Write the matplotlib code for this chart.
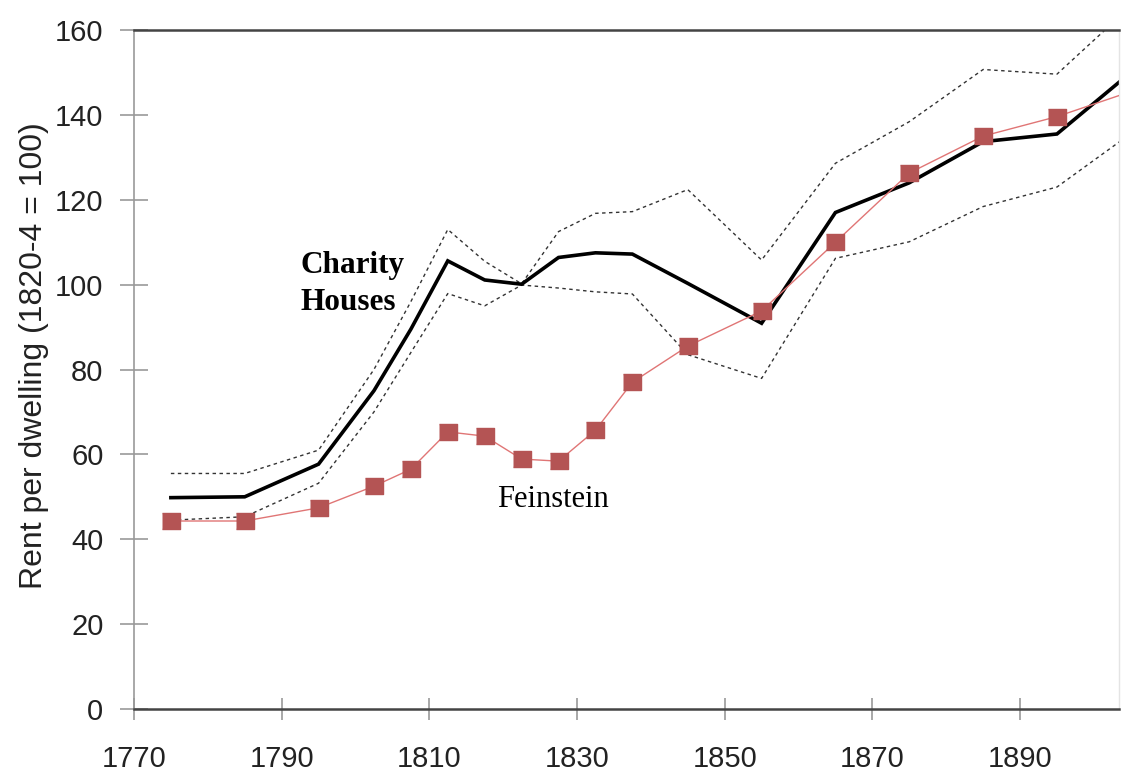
import numpy as np
import matplotlib.pyplot as plt

# charity houses rent index with its upper/lower bounds
years = [1775, 1785, 1795, 1802.5, 1807.5, 1812.5, 1817.5, 1822.5, 1827.5,
         1832.5, 1837.5, 1845, 1855, 1865, 1875, 1885, 1895, 1905]
charity = [49.8, 50.0, 57.7, 75.0, 89.5, 105.6, 101.1, 100.1, 106.4,
           107.5, 107.2, 100.3, 90.9, 117.0, 124.0, 133.7, 135.5, 150.0]
upper = [55.5, 55.5, 61.0, 80.0, 96.0, 113.0, 105.5, 100.2, 112.5,
         116.8, 117.2, 122.4, 105.8, 128.6, 138.4, 150.7, 149.6, 165.6]
lower = [44.5, 45.3, 53.2, 70.0, 84.0, 97.9, 95.0, 99.9, 99.2,
         98.3, 97.8, 83.5, 77.9, 106.2, 110.1, 118.4, 123.0, 135.6]

# Feinstein series
fein_years = [1775, 1785, 1795, 1802.5, 1807.5, 1812.5, 1817.5, 1822.5, 1827.5,
              1832.5, 1837.5, 1845, 1855, 1865, 1875, 1885, 1895, 1905]
feinstein = [44.3, 44.3, 47.4, 52.5, 56.5, 65.3, 64.3, 58.9, 58.4,
             65.7, 77.0, 85.5, 93.8, 110.0, 126.3, 135.0, 139.6, 145.5]

xticks = [1770, 1790, 1810, 1830, 1850, 1870, 1890]
yticks = [0, 20, 40, 60, 80, 100, 120, 140, 160]

fig = plt.figure(dpi=100, figsize=(11.22, 7.74))
ax = fig.add_axes([0.1194, 0.084, 0.8779, 0.8772])

box = [(-1.2, -1), (1.2, -1), (1.2, 1), (-1.2, 1)]

ax.plot(years, upper, color='#333333', lw=1.0, ls=(0, (2.5, 2.5)))
ax.plot(years, lower, color='#333333', lw=1.0, ls=(0, (2.5, 2.5)))
ax.plot(years, charity, color='black', lw=2.6, solid_joinstyle='miter')
ax.plot(fein_years, feinstein, color='#e07575', lw=1.0, marker=box,
        markersize=13, markerfacecolor='#b45454', markeredgecolor='#b45454',
        zorder=3)

ax.text(1792.5, 102.8, 'Charity', family='Liberation Serif', weight='bold',
        fontsize=22.5, va='baseline', ha='left')
ax.text(1792.5, 94.0, 'Houses', family='Liberation Serif', weight='bold',
        fontsize=22.5, va='baseline', ha='left')
ax.text(1819.2, 47.7, 'Feinstein', family='Liberation Serif',
        fontsize=22, va='baseline', ha='left')

ax.set_xlim(1770, 1903.4)
ax.set_ylim(0, 160)
ax.set_xticks(xticks)
ax.set_yticks(yticks)
ax.tick_params(axis='both', direction='inout', color='#999999', width=1.2,
               labelsize=21, labelcolor='#222222')
ax.tick_params(axis='x', length=16, pad=18)
ax.tick_params(axis='y', length=20, pad=12)
for lab in ax.get_xticklabels() + ax.get_yticklabels():
    lab.set_family('Liberation Sans')

ax.spines['left'].set_color('#999999')
ax.spines['left'].set_linewidth(1.2)
ax.spines['bottom'].set_color('#444444')
ax.spines['bottom'].set_linewidth(1.8)
ax.spines['top'].set_color('#444444')
ax.spines['top'].set_linewidth(1.8)
ax.spines['right'].set_color('#e4e4e4')
ax.spines['right'].set_linewidth(1.0)

ax.set_ylabel('Rent per dwelling (1820-4 = 100)', family='Liberation Sans',
              fontsize=23, color='#222222')
ax.yaxis.set_label_coords(-0.086, 0.52)

fig.savefig('out.png', dpi=100)
